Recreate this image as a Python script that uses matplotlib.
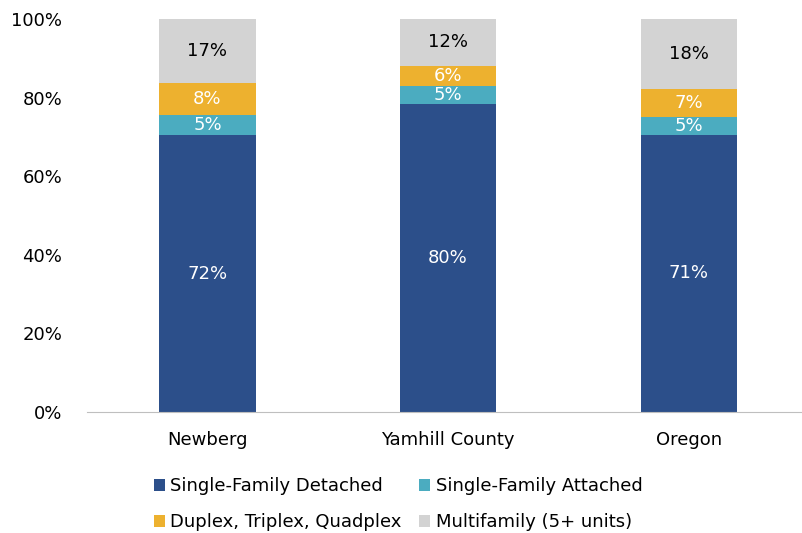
import numpy as np
import matplotlib.pyplot as plt

plt.rcParams['font.family'] = ['DejaVu Sans']

places = ["Newberg", "Yamhill County", "Oregon"]
series = ["Single-Family Detached", "Single-Family Attached",
          "Duplex, Triplex, Quadplex", "Multifamily (5+ units)"]
# bar heights (share of housing stock)
sf_detached = [70.4, 78.4, 70.6]
sf_attached = [5.2, 4.5, 4.5]
plexes = [8.2, 5.3, 7.1]
multifamily = [16.2, 11.8, 17.8]
# rounded labels as printed on the bars
labels = [["72%", "80%", "71%"],
          ["5%", "5%", "5%"],
          ["8%", "6%", "7%"],
          ["17%", "12%", "18%"]]

colors = ["#2C4F8A", "#4BACC0", "#EDB12F", "#D3D3D3"]
text_colors = ["white", "white", "white", "black"]
fs = 13

fig = plt.figure(figsize=(8.02, 5.33), dpi=100)
ax = fig.add_axes([0.1085, 0.227, 0.8915, 0.737])

x = np.arange(len(places))
bottom = np.zeros(len(places))
handles = []
for vals, lab, c, tc, name in zip([sf_detached, sf_attached, plexes, multifamily],
                                  labels, colors, text_colors, series):
    vals = np.array(vals)
    h = ax.bar(x, vals, 0.4, bottom=bottom, color=c, label=name)
    handles.append(h)
    for xi, b, v, t in zip(x, bottom, vals, lab):
        ax.text(xi, b + v / 2, t, ha="center", va="center", color=tc, fontsize=fs)
    bottom += vals

ax.set_xlim(-0.5, 2.47)
ax.set_ylim(0, 100)
ax.set_yticks(range(0, 101, 20))
ax.set_yticklabels([f"{v}%" for v in range(0, 101, 20)], fontsize=fs)
ax.set_xticks(x)
ax.set_xticklabels(places, fontsize=fs)
for s in ["top", "right", "left"]:
    ax.spines[s].set_visible(False)
ax.spines["bottom"].set_color("#BFBFBF")
ax.tick_params(axis="both", length=0)
ax.tick_params(axis="x", pad=14)
ax.tick_params(axis="y", pad=18)

# row-major order in the legend
order = [0, 2, 1, 3]
ax.legend([handles[i] for i in order], [series[i] for i in order],
          loc="upper center", bbox_to_anchor=(0.435, -0.125), ncol=2, frameon=False,
          fontsize=fs, handlelength=0.6, handleheight=0.6, handletextpad=0.3,
          columnspacing=1.0, labelspacing=1.0)

fig.savefig("out.png", dpi=100)
